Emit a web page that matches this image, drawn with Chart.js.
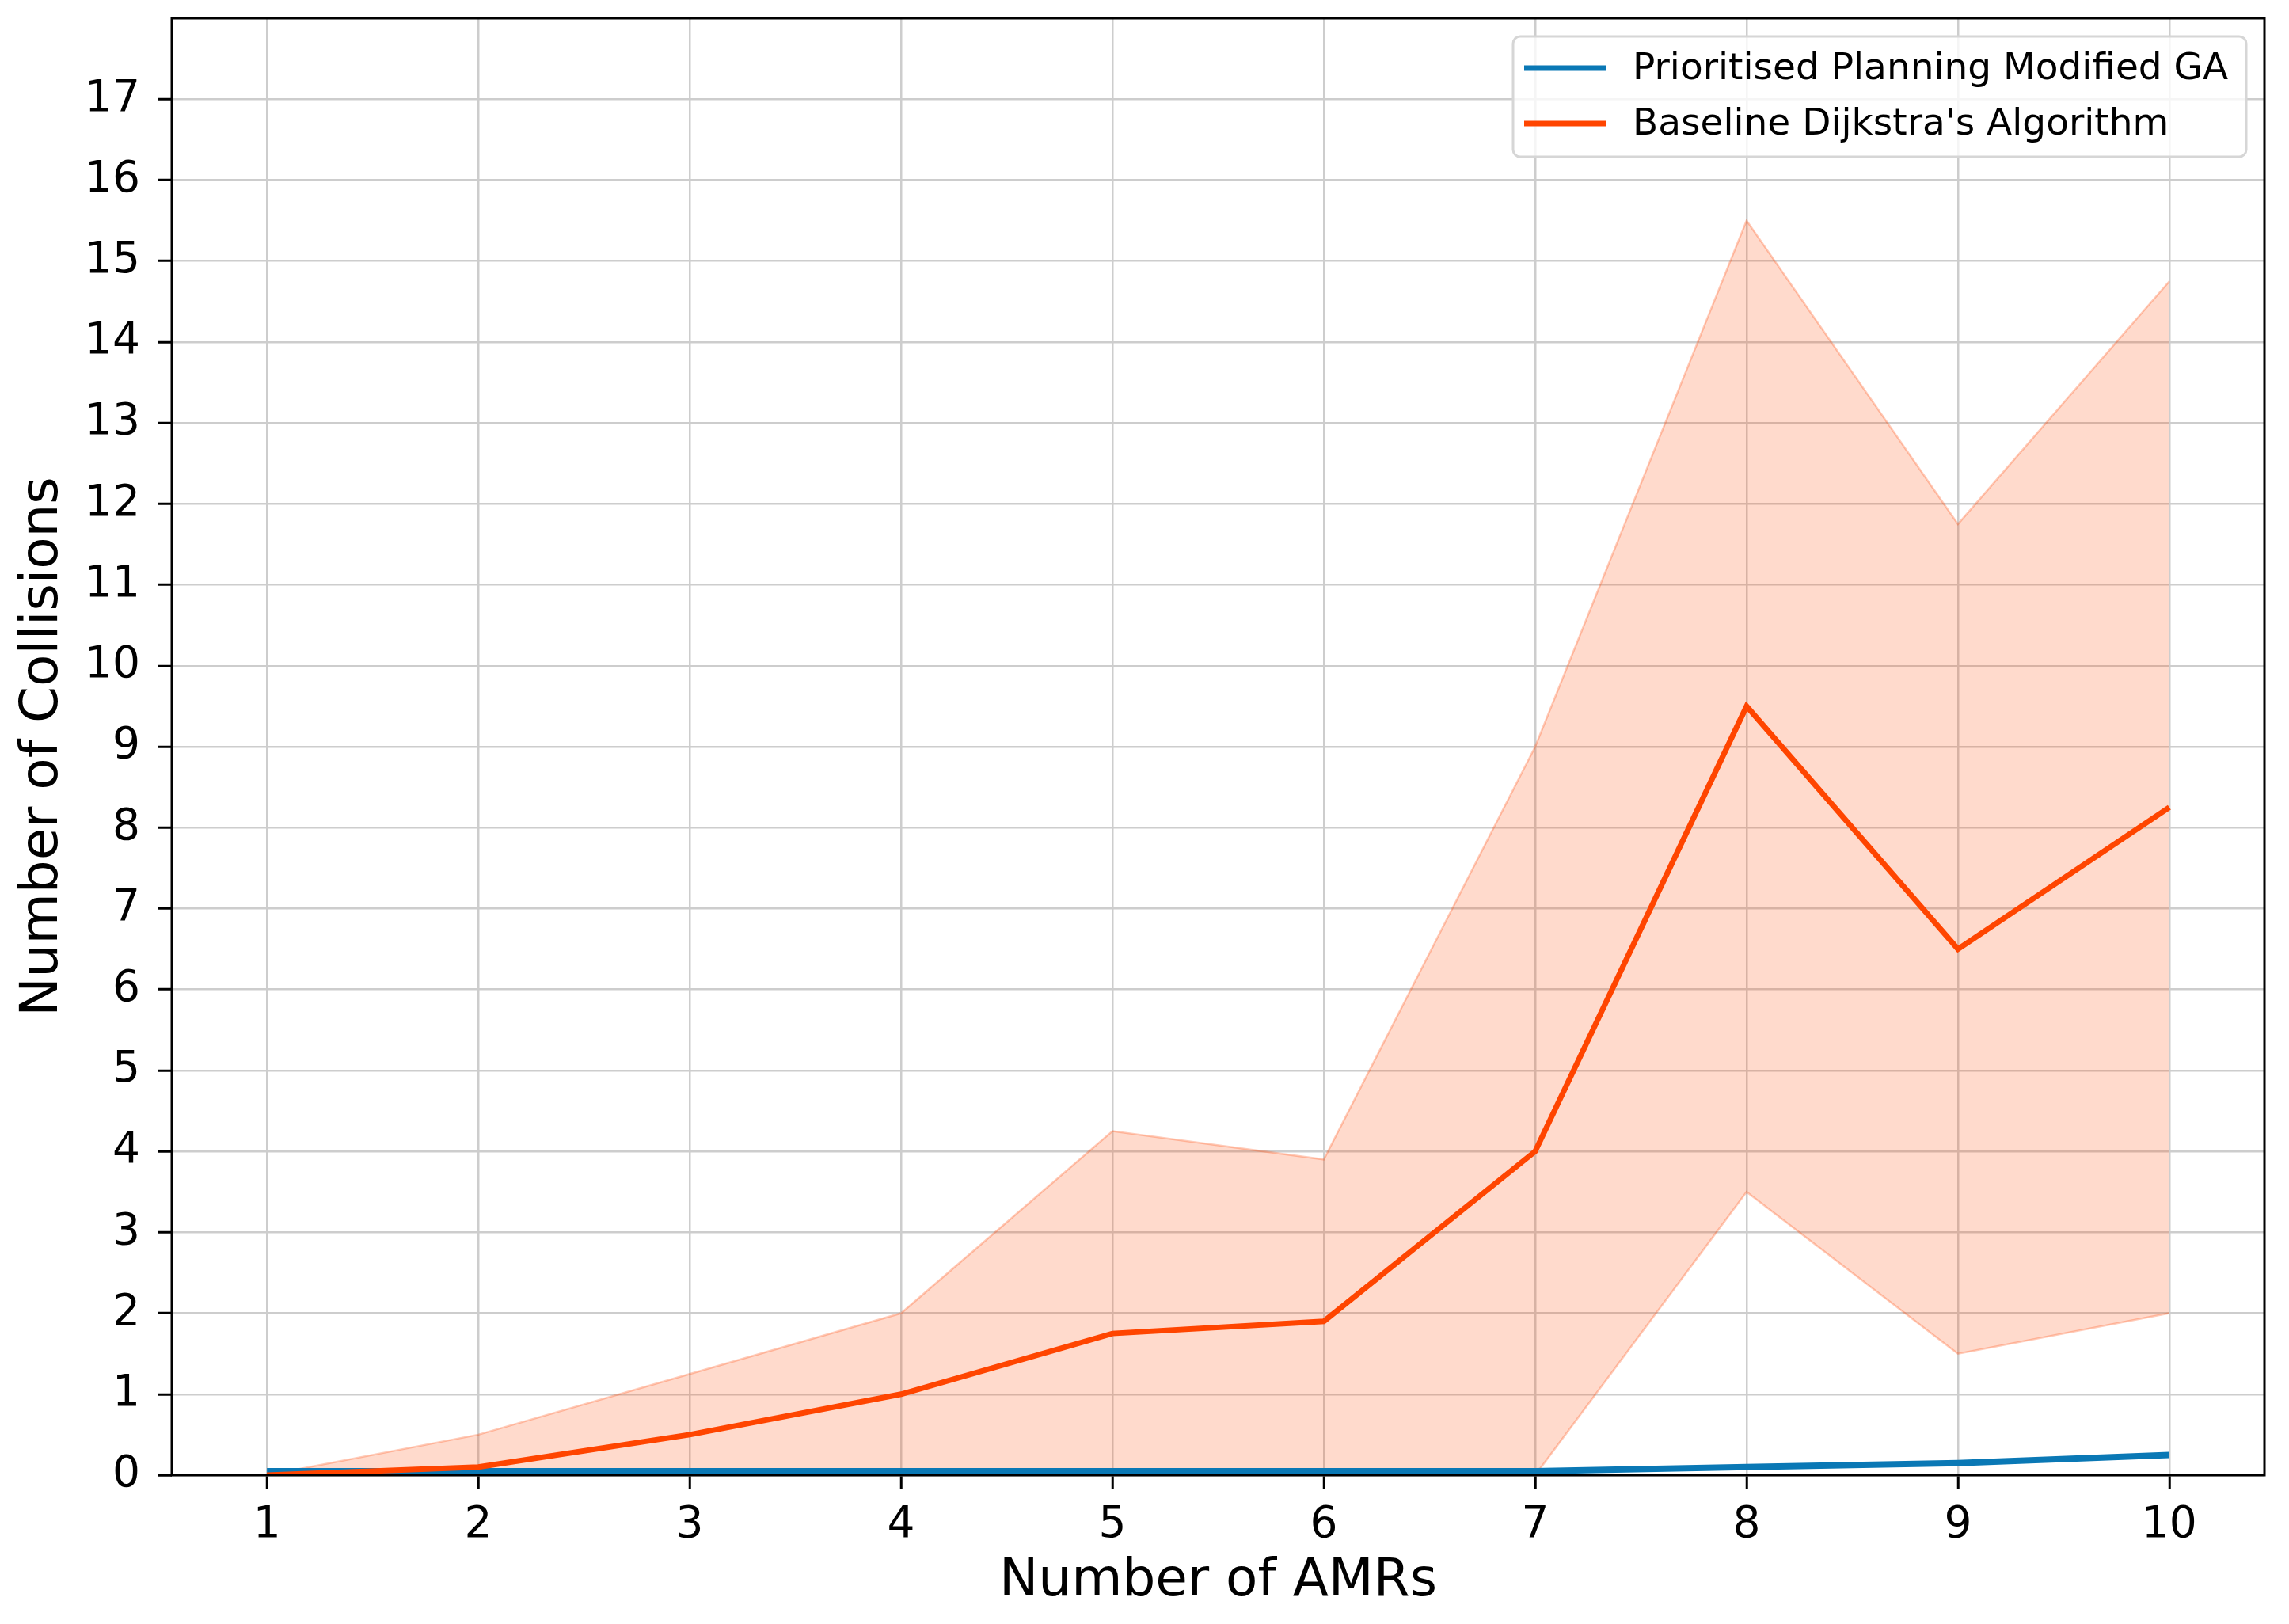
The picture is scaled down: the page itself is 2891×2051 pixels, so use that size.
<!DOCTYPE html>
<html>
<head>
<meta charset="utf-8">
<script src="https://cdn.jsdelivr.net/npm/chart.js@4.4.1/dist/chart.umd.min.js"></script>
<style>
  html, body { margin: 0; padding: 0; background: #ffffff; }
  canvas { display: block; }
</style>
</head>
<body>
<canvas id="collisionChart" width="2891" height="2051"></canvas>
<script>
// --- data ---
const amrCounts = [1, 2, 3, 4, 5, 6, 7, 8, 9, 10];
const gaMean = [0.05, 0.05, 0.05, 0.05, 0.05, 0.05, 0.05, 0.1, 0.15, 0.25];
const dijkstraMean = [0, 0.1, 0.5, 1.0, 1.75, 1.9, 4.0, 9.5, 6.5, 8.25];
const dijkstraUpper = [0, 0.5, 1.25, 2.0, 4.25, 3.9, 9.0, 15.5, 11.75, 14.75];
const dijkstraLower = [0, 0, 0, 0, 0, 0, 0, 3.5, 1.5, 2.0];
const yTicks = [0, 1, 2, 3, 4, 5, 6, 7, 8, 9, 10, 11, 12, 13, 14, 15, 16, 17];

const FONT = "'DejaVu Sans', sans-serif";
const BLUE = '#0a78b5';
const RED = '#ff4500';

const toPoints = (ys) => amrCounts.map((x, i) => ({ x: x, y: ys[i] }));

// no extra room for half labels at the axis ends
const noEdgePadding = (scale) => {
    scale.paddingTop = 0;
    scale.paddingBottom = 0;
    scale.paddingLeft = 0;
    scale.paddingRight = 0;
};

// matplotlib-style box around the axes
const framePlugin = {
    id: 'frame',
    afterDatasetsDraw(chart) {
        const { ctx, chartArea: a } = chart;
        ctx.save();
        ctx.strokeStyle = '#000000';
        ctx.lineWidth = 3;
        ctx.strokeRect(a.left, a.top, a.right - a.left, a.bottom - a.top);
        ctx.restore();
    }
};

// legend box in the upper right corner
const legendBoxPlugin = {
    id: 'legendBox',
    afterDraw(chart) {
        const { ctx } = chart;
        const items = chart.data.datasets.filter(d => d.inLegend);
        const x0 = 1911, y0 = 46, w = 926, h = 152, r = 9;
        ctx.save();
        ctx.beginPath();
        ctx.roundRect(x0, y0, w, h, r);
        ctx.fillStyle = 'rgba(255,255,255,0.8)';
        ctx.fill();
        ctx.strokeStyle = '#d6d6d6';
        ctx.lineWidth = 3;
        ctx.stroke();
        ctx.font = `47px ${FONT}`;
        ctx.textBaseline = 'middle';
        items.forEach((d, i) => {
            const cy = 86 + i * 70;
            ctx.strokeStyle = d.borderColor;
            ctx.lineWidth = 7;
            ctx.beginPath();
            ctx.moveTo(1925, cy);
            ctx.lineTo(2028, cy);
            ctx.stroke();
            ctx.fillStyle = '#000000';
            ctx.fillText(d.label, 2062, cy + 2);
        });
        ctx.restore();
    }
};

const ctx = document.getElementById('collisionChart').getContext('2d');

new Chart(ctx, {
    type: 'line',
    data: {
        datasets: [
            {
                label: 'Baseline upper',
                data: toPoints(dijkstraUpper),
                borderColor: 'rgba(255, 69, 0, 0.28)',
                borderWidth: 2.5,
                backgroundColor: 'rgba(255, 69, 0, 0.2)',
                fill: '+1',
                pointRadius: 0,
                order: 4
            },
            {
                label: 'Baseline lower',
                data: toPoints(dijkstraLower),
                borderColor: 'rgba(255, 69, 0, 0.28)',
                borderWidth: 2.5,
                fill: false,
                pointRadius: 0,
                order: 3
            },
            {
                label: 'Prioritised Planning Modified GA',
                data: toPoints(gaMean),
                borderColor: BLUE,
                borderWidth: 8,
                fill: false,
                pointRadius: 0,
                order: 2,
                inLegend: true
            },
            {
                label: "Baseline Dijkstra's Algorithm",
                data: toPoints(dijkstraMean),
                borderColor: RED,
                borderWidth: 7,
                fill: false,
                pointRadius: 0,
                order: 1,
                inLegend: true
            }
        ]
    },
    options: {
        responsive: false,
        animation: false,
        devicePixelRatio: 1,
        layout: { padding: { left: 0, top: 23, right: 31, bottom: 0 } },
        plugins: {
            legend: { display: false },
            tooltip: { enabled: false }
        },
        scales: {
            x: {
                type: 'linear',
                min: 0.55,
                max: 10.45,
                afterBuildTicks: (scale) => { scale.ticks = amrCounts.map(v => ({ value: v })); },
                afterFit: (scale) => { scale.height = 188; noEdgePadding(scale); },
                grid: { color: '#cdcdcd', lineWidth: 2.5, tickLength: 17, tickColor: '#000000', tickWidth: 3 },
                border: { display: false },
                ticks: { color: '#000000', font: { family: FONT, size: 55 }, padding: 14, maxRotation: 0 },
                title: { display: true, text: 'Number of AMRs', color: '#000000', font: { family: FONT, size: 66 }, padding: { top: 0, bottom: 14 } }
            },
            y: {
                type: 'linear',
                min: 0,
                max: 18,
                afterBuildTicks: (scale) => { scale.ticks = yTicks.map(v => ({ value: v })); },
                afterFit: (scale) => { scale.width = 217; noEdgePadding(scale); },
                grid: { color: '#cdcdcd', lineWidth: 2.5, tickLength: 17, tickColor: '#000000', tickWidth: 3 },
                border: { display: false },
                ticks: { color: '#000000', font: { family: FONT, size: 55 }, padding: 23 },
                title: { display: true, text: 'Number of Collisions', color: '#000000', font: { family: FONT, size: 66 }, padding: { top: 15, bottom: 0 } }
            }
        }
    },
    plugins: [framePlugin, legendBoxPlugin]
});
</script>
</body>
</html>
